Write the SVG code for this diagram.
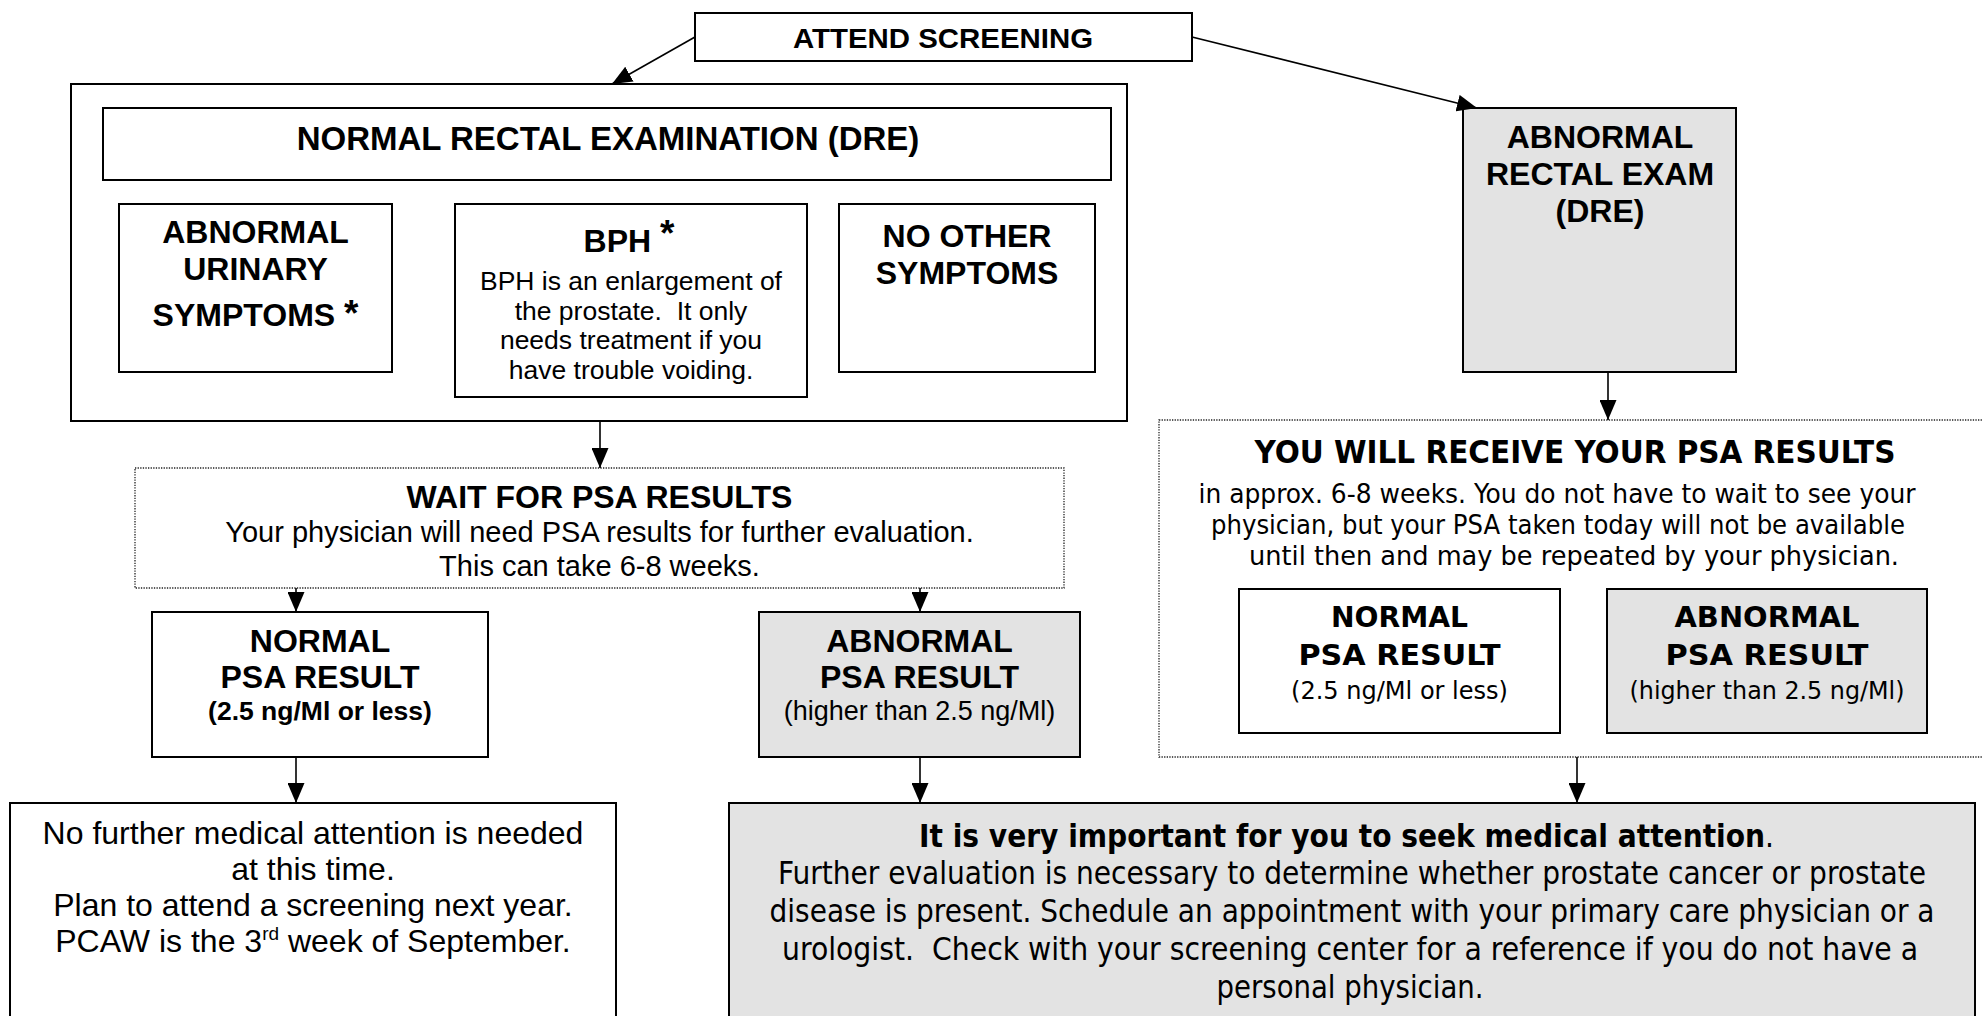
<svg xmlns="http://www.w3.org/2000/svg" width="1982" height="1016" viewBox="0 0 1982 1016">
<style>
.box{fill:#fff;stroke:#000;stroke-width:2}
.gray{fill:#e3e3e3;stroke:#000;stroke-width:2}
.dot{fill:#fff;stroke:#222;stroke-width:1.3;stroke-dasharray:1.3 1.3}
.a{font-family:"Liberation Sans",Arial,sans-serif;fill:#000;text-anchor:middle}
.ab{font-family:"Liberation Sans",Arial,sans-serif;font-weight:bold;fill:#000;text-anchor:middle}
.t{font-family:"DejaVu Sans Condensed","DejaVu Sans",sans-serif;fill:#000;text-anchor:middle}
.tb{font-family:"DejaVu Sans Condensed","DejaVu Sans",sans-serif;font-weight:bold;fill:#000;text-anchor:middle}
.conn line{stroke:#000;stroke-width:1.6;fill:none;marker-end:url(#arr)}
</style>
<defs>
<marker id="arr" markerUnits="userSpaceOnUse" markerWidth="20" markerHeight="17" refX="20" refY="8.5" orient="auto">
<path d="M0,0 L20,8.5 L0,17 z" fill="#000"/>
</marker>
</defs>
<rect width="1982" height="1016" fill="#fff"/>

<g id="attend">
<rect class="box" x="695" y="13" width="497" height="48"/>
<text class="ab" x="943" y="48" font-size="28" textLength="300" lengthAdjust="spacingAndGlyphs">ATTEND SCREENING</text>
</g>

<g id="normal-dre">
<rect class="box" x="71" y="84" width="1056" height="337"/>
<g id="normal-dre-title">
<rect class="box" x="103" y="108" width="1008" height="72"/>
<text class="ab" x="608" y="150" font-size="33">NORMAL RECTAL EXAMINATION (DRE)</text>
</g>
<g id="abnormal-urinary">
<rect class="box" x="119" y="204" width="273" height="168"/>
<text class="ab" x="255.5" y="243" font-size="32">ABNORMAL</text>
<text class="ab" x="255.5" y="280" font-size="32">URINARY</text>
<text class="ab" x="255.5" y="326" font-size="32">SYMPTOMS <tspan font-size="37">*</tspan></text>
</g>
<g id="bph">
<rect class="box" x="455" y="204" width="352" height="193"/>
<text class="ab" x="629" y="252" font-size="32">BPH <tspan font-size="37" dy="-6">*</tspan></text>
<text class="a" x="631" y="290" font-size="26.5">BPH is an enlargement of</text>
<text class="a" x="631" y="320" font-size="26.5" xml:space="preserve">the prostate.  It only</text>
<text class="a" x="631" y="349" font-size="26.5">needs treatment if you</text>
<text class="a" x="631" y="379" font-size="26.5">have trouble voiding.</text>
</g>
<g id="no-other">
<rect class="box" x="839" y="204" width="256" height="168"/>
<text class="ab" x="967" y="247" font-size="32">NO OTHER</text>
<text class="ab" x="967" y="284" font-size="32">SYMPTOMS</text>
</g>
</g>

<g id="abnormal-dre">
<rect class="gray" x="1463" y="108" width="273" height="264"/>
<text class="ab" x="1600" y="148" font-size="32">ABNORMAL</text>
<text class="ab" x="1600" y="185" font-size="32">RECTAL EXAM</text>
<text class="ab" x="1600" y="222" font-size="32">(DRE)</text>
</g>

<g id="wait-psa">
<rect class="dot" x="135" y="468" width="929" height="120"/>
<text class="ab" x="599.5" y="508" font-size="32">WAIT FOR PSA RESULTS</text>
<text class="a" x="599.5" y="542" font-size="29">Your physician will need PSA results for further evaluation.</text>
<text class="a" x="599.5" y="576" font-size="29">This can take 6-8 weeks.</text>
</g>

<g id="normal-psa-left">
<rect class="box" x="152" y="612" width="336" height="145"/>
<text class="ab" x="320" y="652" font-size="32">NORMAL</text>
<text class="ab" x="320" y="688" font-size="32">PSA RESULT</text>
<text class="ab" x="320" y="720" font-size="26.5">(2.5 ng/Ml or less)</text>
</g>

<g id="abnormal-psa-left">
<rect class="gray" x="759" y="612" width="321" height="145"/>
<text class="ab" x="919.5" y="652" font-size="32">ABNORMAL</text>
<text class="ab" x="919.5" y="688" font-size="32">PSA RESULT</text>
<text class="a" x="919.5" y="720" font-size="27">(higher than 2.5 ng/Ml)</text>
</g>

<g id="receive-psa">
<rect class="dot" x="1159" y="420" width="824" height="337"/>
<text class="tb" x="1575" y="463" font-size="32" textLength="641" lengthAdjust="spacingAndGlyphs">YOU WILL RECEIVE YOUR PSA RESULTS</text>
<text class="t" x="1557" y="503" font-size="27" textLength="717" lengthAdjust="spacingAndGlyphs">in approx. 6-8 weeks. You do not have to wait to see your</text>
<text class="t" x="1558" y="534" font-size="27" textLength="694" lengthAdjust="spacingAndGlyphs">physician, but your PSA taken today will not be available</text>
<text class="t" x="1574" y="565" font-size="27" textLength="650" lengthAdjust="spacingAndGlyphs">until then and may be repeated by your physician.</text>
<g id="normal-psa-right">
<rect class="box" x="1239" y="589" width="321" height="144"/>
<text class="tb" x="1399.5" y="627" font-size="28" textLength="137" lengthAdjust="spacingAndGlyphs">NORMAL</text>
<text class="tb" x="1399.5" y="665" font-size="28" textLength="202" lengthAdjust="spacingAndGlyphs">PSA RESULT</text>
<text class="t" x="1399.5" y="699" font-size="24" textLength="217" lengthAdjust="spacingAndGlyphs">(2.5 ng/Ml or less)</text>
</g>
<g id="abnormal-psa-right">
<rect class="gray" x="1607" y="589" width="320" height="144"/>
<text class="tb" x="1767" y="627" font-size="28" textLength="185" lengthAdjust="spacingAndGlyphs">ABNORMAL</text>
<text class="tb" x="1767" y="665" font-size="28" textLength="203" lengthAdjust="spacingAndGlyphs">PSA RESULT</text>
<text class="t" x="1767" y="699" font-size="24" textLength="275" lengthAdjust="spacingAndGlyphs">(higher than 2.5 ng/Ml)</text>
</g>
</g>

<g id="no-further">
<rect class="box" x="10" y="803" width="606" height="230"/>
<text class="a" x="313" y="844" font-size="32">No further medical attention is needed</text>
<text class="a" x="313" y="880" font-size="32">at this time.</text>
<text class="a" x="313" y="916" font-size="32">Plan to attend a screening next year.</text>
<text class="a" x="313" y="952" font-size="32">PCAW is the 3<tspan font-size="19" dy="-12">rd</tspan><tspan dy="12"> week of September.</tspan></text>
</g>

<g id="seek-attention">
<rect class="gray" x="729" y="803" width="1246" height="230"/>
<text class="tb" x="919" y="847" font-size="31.5" style="text-anchor:start" textLength="855" lengthAdjust="spacingAndGlyphs">It is very important for you to seek medical attention<tspan font-weight="normal">.</tspan></text>
<text class="t" x="1352" y="884" font-size="31.5" textLength="1148" lengthAdjust="spacingAndGlyphs">Further evaluation is necessary to determine whether prostate cancer or prostate</text>
<text class="t" x="1352" y="922" font-size="31.5" textLength="1165" lengthAdjust="spacingAndGlyphs">disease is present. Schedule an appointment with your primary care physician or a</text>
<text class="t" x="1350" y="960" font-size="31.5" textLength="1136" lengthAdjust="spacingAndGlyphs" xml:space="preserve">urologist.  Check with your screening center for a reference if you do not have a</text>
<text class="t" x="1350" y="998" font-size="31.5" textLength="267" lengthAdjust="spacingAndGlyphs">personal physician.</text>
</g>

<g id="connectors" class="conn">
<line x1="695" y1="37" x2="612" y2="84"/>
<line x1="1192" y1="37" x2="1477" y2="108"/>
<line x1="600" y1="421" x2="600" y2="468"/>
<line x1="296" y1="588" x2="296" y2="612"/>
<line x1="920" y1="588" x2="920" y2="612"/>
<line x1="1608" y1="372" x2="1608" y2="420"/>
<line x1="296" y1="757" x2="296" y2="803"/>
<line x1="920" y1="757" x2="920" y2="803"/>
<line x1="1577" y1="757" x2="1577" y2="803"/>
</g>
</svg>
